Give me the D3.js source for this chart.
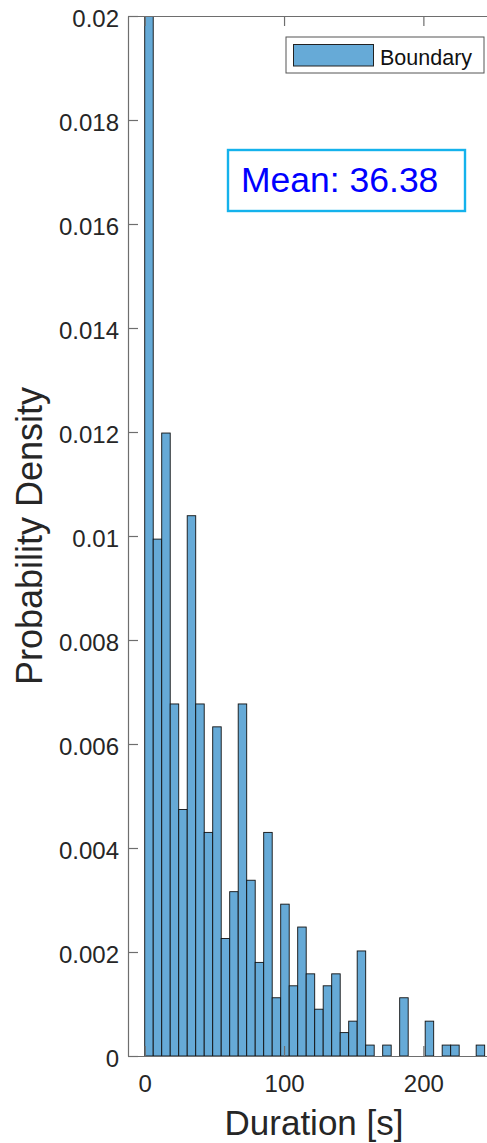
<!DOCTYPE html>
<html>
<head>
<meta charset="utf-8">
<script src="https://cdn.jsdelivr.net/npm/d3@7"></script>
<style>
  html, body { margin: 0; padding: 0; background: #fff; }
  svg { display: block; font-family: "Liberation Sans", Arial, Helvetica, sans-serif; }
</style>
</head>
<body>
<script>
// Histogram of boundary durations, normalised as a probability density.
const binStart = 0;
const binWidth = 6.1;
const density = [
  0.0617, 0.00994, 0.01198, 0.00677, 0.00474, 0.01039, 0.00677, 0.0043,
  0.00633, 0.00226, 0.00316, 0.00677, 0.00338, 0.0018, 0.0043, 0.00112,
  0.00292, 0.00135, 0.00248, 0.00158, 0.0009, 0.00135, 0.00158, 0.00045,
  0.00067, 0.00202, 0.00021, 0, 0.00021, 0, 0.00112, 0,
  0, 0.00067, 0, 0.00021, 0.00021, 0, 0, 0.00021
];
const xTicks = [0, 100, 200];
const yTicks = [0, 0.002, 0.004, 0.006, 0.008, 0.01, 0.012, 0.014, 0.016, 0.018, 0.02];
const yTickLabels = ["0", "0.002", "0.004", "0.006", "0.008", "0.01", "0.012", "0.014", "0.016", "0.018", "0.02"];
const seriesName = "Boundary";
const meanLabel = "Mean: 36.38";
const xLabel = "Duration [s]";
const yLabel = "Probability Density";

const W = 487, H = 1143;
const plot = { left: 128, right: 500, top: 16, bottom: 1056 };

const svg = d3.select("body").append("svg").attr("width", W).attr("height", H);

const x = d3.scaleLinear().domain([-12, 255]).range([plot.left, plot.right]);
const y = d3.scaleLinear().domain([0, 0.02]).range([plot.bottom, plot.top]);

const bins = density.map((d, i) => ({ x0: binStart + i * binWidth, x1: binStart + (i + 1) * binWidth, v: d }));

svg.append("defs").append("clipPath").attr("id", "plotClip")
  .append("rect")
  .attr("x", plot.left).attr("y", plot.top)
  .attr("width", plot.right - plot.left).attr("height", plot.bottom - plot.top);

// bars
svg.append("g").attr("clip-path", "url(#plotClip)")
  .selectAll("rect").data(bins).join("rect")
  .attr("x", d => x(d.x0))
  .attr("width", d => x(d.x1) - x(d.x0))
  .attr("y", d => y(d.v))
  .attr("height", d => y(0) - y(d.v))
  .attr("fill", "#66aad7")
  .attr("stroke", "#111")
  .attr("stroke-width", 0.9);

const axisColor = "#6e6e6e";
const textColor = "#262626";
const tickLen = 10;

// bottom axis with inward ticks
const xAxisBottom = svg.append("g").attr("transform", `translate(0,${plot.bottom})`)
  .call(d3.axisBottom(x).tickValues(xTicks).tickSizeInner(-tickLen).tickSizeOuter(0).tickPadding(19));
// top axis (box) with inward ticks, no labels
const xAxisTop = svg.append("g").attr("transform", `translate(0,${plot.top})`)
  .call(d3.axisTop(x).tickValues(xTicks).tickSizeInner(-tickLen).tickSizeOuter(0).tickFormat(""));
// left axis
const yAxisLeft = svg.append("g").attr("transform", `translate(${plot.left},0)`)
  .call(d3.axisLeft(y).tickValues(yTicks).tickSizeInner(-tickLen).tickSizeOuter(0)
    .tickPadding(9).tickFormat((d, i) => yTickLabels[i]));

[xAxisBottom, xAxisTop, yAxisLeft].forEach(g => {
  g.select(".domain").attr("stroke", axisColor).attr("stroke-width", 1.2);
  g.selectAll(".tick line").attr("stroke", axisColor).attr("stroke-width", 1.2);
  g.selectAll(".tick text").attr("fill", textColor).attr("font-size", 24)
    .attr("font-family", "Liberation Sans, Arial, sans-serif");
});
xAxisBottom.selectAll(".tick text").attr("dy", "0.71em");
yAxisLeft.selectAll(".tick text").attr("dy", "0.42em");

// axis labels
svg.append("text")
  .attr("x", (plot.left + plot.right) / 2).attr("y", 1135)
  .attr("text-anchor", "middle").attr("font-size", 35).attr("fill", textColor)
  .text(xLabel);
svg.append("text")
  .attr("transform", `translate(42,${(plot.top + plot.bottom) / 2}) rotate(-90)`)
  .attr("text-anchor", "middle").attr("font-size", 36).attr("fill", textColor)
  .text(yLabel);

// legend
const legend = svg.append("g");
legend.append("rect").attr("x", 286).attr("y", 37).attr("width", 198).attr("height", 36)
  .attr("fill", "#fff").attr("stroke", "#555").attr("stroke-width", 1);
legend.append("rect").attr("x", 293.5).attr("y", 44.5).attr("width", 80).attr("height", 21.5)
  .attr("fill", "#66aad7").attr("stroke", "#222").attr("stroke-width", 1);
legend.append("text").attr("x", 380).attr("y", 65).attr("font-size", 21.5).attr("fill", "#111")
  .text(seriesName);

// mean annotation
const note = svg.append("g");
note.append("rect").attr("x", 228).attr("y", 150).attr("width", 237).attr("height", 61)
  .attr("fill", "#fff").attr("stroke", "#14b2ec").attr("stroke-width", 2.4);
note.append("text").attr("x", 241).attr("y", 192).attr("font-size", 35.5).attr("fill", "#0000ff")
  .text(meanLabel);
</script>
</body>
</html>
